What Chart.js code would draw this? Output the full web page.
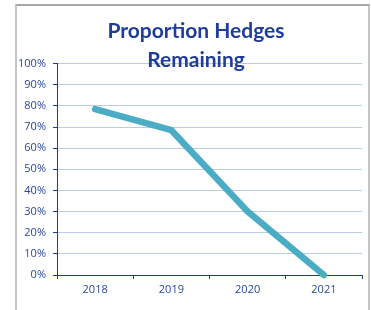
<!DOCTYPE html>
<html>
<head>
<meta charset="utf-8">
<script src="https://cdn.jsdelivr.net/npm/chart.js@4/dist/chart.umd.min.js"></script>
<style>
  html, body { margin: 0; padding: 0; background: #ffffff; overflow: hidden; }
  #wrap { position: relative; width: 371px; height: 310px; }
  #frame { position: absolute; left: 15px; top: 4px; width: 351px; height: 320px;
           border-left: 2px solid #c4c4c4; border-top: 2px solid #a8a8a8; border-right: 2px solid #c4c4c4; }
  canvas { position: absolute; left: 0; top: 0; }
</style>
</head>
<body>
<div id="wrap">
  <div id="frame"></div>
  <canvas id="c" width="371" height="310"></canvas>
</div>
<script>
const titleLines = ['Proportion Hedges', 'Remaining'];
const categories = ['2018', '2019', '2020', '2021'];
const hedgesRemaining = [78.5, 68.5, 30, 0];
const yTicks = [0, 10, 20, 30, 40, 50, 60, 70, 80, 90, 100];

const blueText = '#2a47a0';
const axisBlue = '#1f3a93';
const gridBlue = '#b8cce4';

const shiftTitle = {
  id: 'shiftTitle',
  afterLayout(chart) {
    const tb = chart.titleBlock;
    if (tb) { tb.left = 30; tb.right = chart.chartArea.right; }
  }
};

new Chart(document.getElementById('c'), {
  type: 'line',
  data: {
    labels: categories,
    datasets: [{
      label: 'Proportion Hedges Remaining',
      data: hedgesRemaining,
      borderColor: '#4bacc6',
      backgroundColor: '#4bacc6',
      borderWidth: 6.5,
      borderCapStyle: 'round',
      borderJoinStyle: 'round',
      pointRadius: 0,
      tension: 0,
      clip: false
    }]
  },
  plugins: [shiftTitle],
  options: {
    responsive: false,
    animation: false,
    layout: { padding: { left: 0, right: 9, top: 0, bottom: 0 } },
    plugins: {
      legend: { display: false },
      tooltip: { enabled: false },
      title: {
        display: true,
        text: titleLines,
        color: '#1f3e9c',
        font: { family: 'Lato', size: 21, weight: 'bold', lineHeight: 1.42 },
        padding: { top: 16, bottom: -12 }
      }
    },
    scales: {
      x: {
        offset: true,
        grid: { offset: true, drawOnChartArea: false, drawTicks: true, tickLength: 4, tickColor: axisBlue },
        border: { color: axisBlue, width: 1 },
        ticks: { color: blueText, font: { family: 'Open Sans', size: 11 }, padding: 4, maxRotation: 0 },
        afterFit: s => { s.height = 35; }
      },
      y: {
        min: 0,
        max: 100,
        afterBuildTicks: s => { s.ticks = yTicks.map(v => ({ value: v })); },
        grid: { color: gridBlue, lineWidth: 1, drawTicks: true, tickLength: 4, tickColor: axisBlue },
        border: { color: axisBlue, width: 1 },
        ticks: { color: blueText, font: { family: 'Open Sans', size: 11 }, padding: 7, callback: v => v + '%' },
        afterFit: s => { s.width = 57; }
      }
    }
  }
});
</script>
</body>
</html>
